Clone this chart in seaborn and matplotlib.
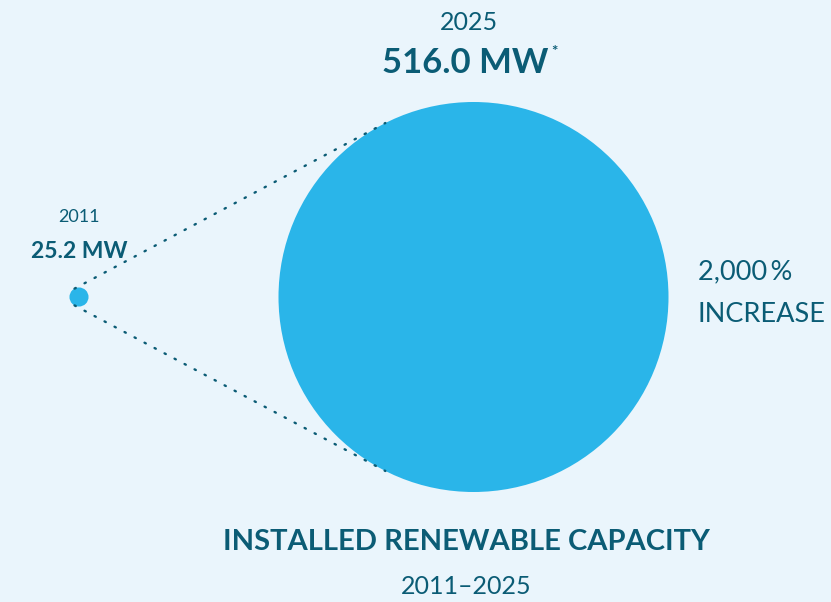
import numpy as np
import pandas as pd
import matplotlib
matplotlib.use("Agg")
import matplotlib.pyplot as plt
from matplotlib.patches import Circle
import seaborn as sns

# Installed renewable capacity, MW
years = ["2011", "2025"]
capacity_mw = [25.2, 516.0]
value_labels = ["25.2 MW", "516.0 MW"]
increase_label = ["2,000\u2009%", "INCREASE"]
title = "INSTALLED RENEWABLE CAPACITY"
subtitle = "2011\u20132025"

BG = "#EAF5FC"
BLUE = "#2AB5E9"
INK = "#0B5C75"

sns.set_theme(style="white", rc={"axes.facecolor": BG, "figure.facecolor": BG})
plt.rcParams["font.family"] = ["Lato", "DejaVu Sans"]

W, H = 831, 602
fig = plt.figure(figsize=(W / 100, H / 100), dpi=100)
ax = fig.add_axes([0, 0, 1, 1])
ax.set_xlim(0, W)
ax.set_ylim(H, 0)
ax.set_aspect("equal")
ax.axis("off")

df = pd.DataFrame({"year": years, "mw": capacity_mw})
# circle radius proportional to capacity
px_per_mw = 195.0 / max(capacity_mw)
df["r"] = df["mw"] * px_per_mw
df["cx"] = [79.0, 473.5]
cy = 297.0
df["cy"] = cy

for _, row in df.iterrows():
    ax.add_patch(Circle((row.cx, row.cy), row.r, facecolor=BLUE, edgecolor="none", zorder=2))

# outer tangent lines joining the two circles
c1 = np.array([df.cx[0], cy]); c2 = np.array([df.cx[1], cy])
r1, r2 = df.r[0], df.r[1]
d = np.linalg.norm(c2 - c1)
a = (r2 - r1) / d
b = np.sqrt(1 - a * a)
for sgn in (1, -1):
    n = np.array([a, sgn * b])
    p1 = c1 - r1 * n
    q = c2 - r2 * n
    p2 = q + 4 * (q - p1) / np.linalg.norm(q - p1)
    ax.plot([p1[0], p2[0]], [p1[1], p2[1]], color=INK, lw=1.7,
            linestyle=(0, (0.6, 4.2)), dash_capstyle="round", zorder=3)

# labels
ax.text(df.cx[1] - 5, 22, years[1], ha="center", va="center", fontsize=18, color=INK)
ax.text(df.cx[1] - 8, 63, value_labels[1], ha="center", va="center", fontsize=25,
        fontweight="bold", color=INK)
ax.text(554, 52, "*", ha="center", va="center", fontsize=11, fontweight="bold", color=INK)

ax.text(df.cx[0], 217, years[0], ha="center", va="center", fontsize=13, color=INK)
ax.text(df.cx[0], 251, value_labels[0], ha="center", va="center", fontsize=16.5,
        fontweight="bold", color=INK)

ax.text(698, 272, increase_label[0], ha="left", va="center", fontsize=19.5, color=INK)
ax.text(698, 314, increase_label[1], ha="left", va="center", fontsize=19.5, color=INK)

ax.text(466, 542, title, ha="center", va="center", fontsize=21, fontweight="bold", color=INK)
ax.text(466, 587, subtitle, ha="center", va="center", fontsize=18, color=INK)

fig.savefig("out.png", dpi=100, facecolor=BG)
